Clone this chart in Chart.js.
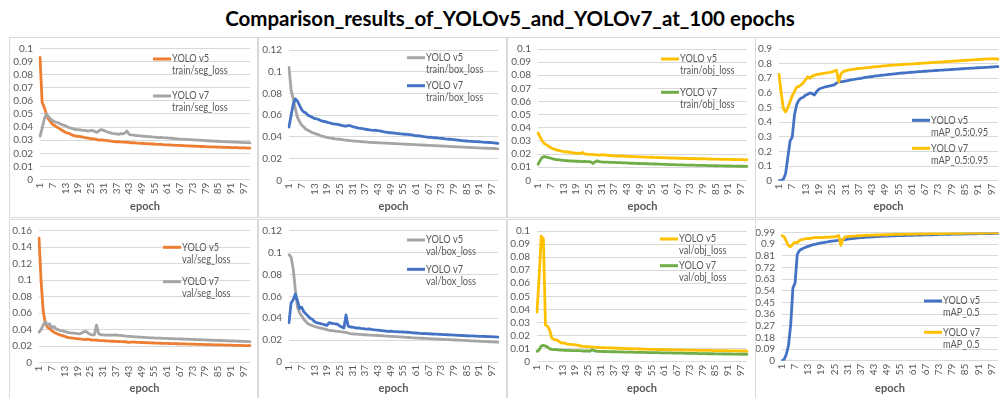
<!DOCTYPE html>
<html><head><meta charset="utf-8">
<script src="https://cdn.jsdelivr.net/npm/chart.js@4.4.1/dist/chart.umd.min.js"></script>
<style>
html,body{margin:0;padding:0;background:#fff;}
#wrap{position:relative;width:1000px;height:398px;overflow:hidden;background:#fff;}
#title{position:absolute;left:0;top:6px;width:1020px;text-align:center;font-weight:bold;font-size:20.5px;font-family:Lato,"Open Sans",sans-serif;color:#000;white-space:nowrap;}
.panel{position:absolute;border:1px solid #d9d9d9;box-sizing:border-box;}
.panel canvas{position:absolute;left:0;top:0;}
</style></head>
<body>
<div id="wrap">
<div id="title">Comparison_results_of_YOLOv5_and_YOLOv7_at_100 epochs</div>
</div>
<script>
const FONT = 'Lato, "Open Sans", sans-serif';

// ---- categories / tick labels ----
const epochs = [
 1,2,3,4,5,6,7,8,9,10, 11,12,13,14,15,16,17,18,19,20,
 21,22,23,24,25,26,27,28,29,30, 31,32,33,34,35,36,37,38,39,40,
 41,42,43,44,45,46,47,48,49,50, 51,52,53,54,55,56,57,58,59,60,
 61,62,63,64,65,66,67,68,69,70, 71,72,73,74,75,76,77,78,79,80,
 81,82,83,84,85,86,87,88,89,90, 91,92,93,94,95,96,97,98,99,100];
const xTickLabels = ['1','7','13','19','25','31','37','43','49','55','61','67','73','79','85','91','97'];
const seriesNames = ['YOLO v5','YOLO v7'];
const xTitle = 'epoch';

const yTicksLoss01 = [0,0.01,0.02,0.03,0.04,0.05,0.06,0.07,0.08,0.09,0.1];
const yTicksLoss012 = [0,0.02,0.04,0.06,0.08,0.1,0.12];
const yTicksLoss016 = [0,0.02,0.04,0.06,0.08,0.1,0.12,0.14,0.16];
const yTicksMap95 = [0,0.1,0.2,0.3,0.4,0.5,0.6,0.7,0.8,0.9];
const yTicksMap50 = [0,0.09,0.18,0.27,0.36,0.45,0.54,0.63,0.72,0.81,0.9,0.99];

// ---- series values ----
const trainSegV5 = [
 0.093,0.059,0.055,0.050,0.046,0.044,0.042,0.041,0.040,0.039,
 0.038,0.037,0.036,0.0355,0.035,0.034,0.0335,0.033,0.033,0.0328,
 0.0325,0.032,0.0318,0.0315,0.031,0.0312,0.0308,0.0305,0.030,0.0302,
 0.030,0.0298,0.0296,0.0295,0.0292,0.029,0.0288,0.029,0.0287,0.0285,
 0.0286,0.0284,0.0283,0.028,0.0282,0.0279,0.0278,0.0276,0.0277,0.0275,
 0.0274,0.0273,0.0272,0.0271,0.027,0.0269,0.0268,0.0268,0.0266,0.0265,
 0.0265,0.0264,0.0263,0.0262,0.0261,0.026,0.026,0.0259,0.0258,0.0257,
 0.0257,0.0256,0.0255,0.0255,0.0254,0.0253,0.0252,0.0252,0.0251,0.025,
 0.025,0.0249,0.0249,0.0248,0.0247,0.0247,0.0246,0.0246,0.0245,0.0245,
 0.0244,0.0244,0.0243,0.0243,0.0242,0.0242,0.0241,0.0241,0.024,0.024];
const trainSegV7 = [
 0.033,0.039,0.046,0.050,0.048,0.046,0.045,0.044,0.0435,0.043,
 0.042,0.0415,0.041,0.040,0.0395,0.039,0.0385,0.038,0.038,0.0378,
 0.0375,0.0375,0.0372,0.037,0.0375,0.0373,0.0365,0.036,0.0375,0.038,
 0.0375,0.0368,0.0362,0.0358,0.0352,0.035,0.0348,0.0345,0.035,0.0348,
 0.0355,0.037,0.0345,0.034,0.0338,0.0336,0.0335,0.0333,0.0332,0.033,
 0.0329,0.0328,0.0327,0.0325,0.0324,0.0322,0.032,0.0321,0.0319,0.0318,
 0.0318,0.0316,0.0315,0.0313,0.0312,0.031,0.0309,0.0308,0.0307,0.0306,
 0.0305,0.0304,0.0303,0.0302,0.0301,0.030,0.0299,0.0298,0.0297,0.0296,
 0.0295,0.0294,0.0293,0.0292,0.0292,0.0291,0.029,0.0289,0.0288,0.0288,
 0.0287,0.0286,0.0285,0.0285,0.0284,0.0283,0.0282,0.0282,0.0281,0.028];
const trainBoxV5 = [
 0.104,0.083,0.075,0.066,0.058,0.054,0.051,0.049,0.047,0.046,
 0.045,0.044,0.0433,0.0425,0.042,0.041,0.0405,0.040,0.0395,0.039,
 0.0388,0.0385,0.0382,0.038,0.0378,0.0375,0.0372,0.037,0.0368,0.0365,
 0.0363,0.0361,0.036,0.0358,0.0356,0.0355,0.0353,0.0352,0.035,0.0349,
 0.0348,0.0347,0.0346,0.0345,0.0344,0.0343,0.0342,0.0341,0.034,0.0339,
 0.0338,0.0337,0.0336,0.0335,0.0334,0.0333,0.0332,0.0331,0.033,0.0329,
 0.0328,0.0327,0.0326,0.0325,0.0324,0.0323,0.0322,0.0321,0.032,0.0319,
 0.0318,0.0317,0.0316,0.0315,0.0314,0.0313,0.0312,0.0311,0.031,0.0309,
 0.0308,0.0307,0.0306,0.0305,0.0304,0.0303,0.0302,0.0301,0.030,0.0299,
 0.0298,0.0297,0.0297,0.0296,0.0295,0.0294,0.0294,0.0293,0.0292,0.029];
const trainBoxV7 = [
 0.049,0.060,0.070,0.075,0.073,0.069,0.065,0.063,0.062,0.060,
 0.059,0.058,0.057,0.0565,0.056,0.055,0.0545,0.054,0.0535,0.053,
 0.0525,0.052,0.0518,0.0515,0.051,0.0505,0.050,0.0498,0.0505,0.0502,
 0.0495,0.049,0.0485,0.048,0.0478,0.0475,0.047,0.0468,0.0465,0.0462,
 0.046,0.0462,0.0458,0.0455,0.045,0.0446,0.0443,0.044,0.0438,0.0436,
 0.0434,0.0432,0.043,0.0428,0.0426,0.0424,0.0422,0.042,0.0418,0.0415,
 0.041,0.0412,0.0408,0.0405,0.0402,0.040,0.0396,0.0398,0.0394,0.0392,
 0.039,0.0388,0.0387,0.0385,0.0382,0.038,0.0378,0.0376,0.0374,0.0372,
 0.037,0.0368,0.0366,0.0364,0.0362,0.036,0.0359,0.0358,0.0357,0.0356,
 0.0355,0.0353,0.0352,0.035,0.0349,0.0348,0.0346,0.0344,0.0342,0.034];
const trainObjV5 = [
 0.036,0.033,0.030,0.028,0.027,0.026,0.025,0.024,0.0235,0.023,
 0.0228,0.0222,0.022,0.0215,0.0218,0.0212,0.021,0.0208,0.0205,0.0207,
 0.0203,0.0212,0.0201,0.020,0.0198,0.0197,0.0196,0.0195,0.0193,0.0192,
 0.0194,0.0196,0.0191,0.019,0.0189,0.0188,0.0187,0.0185,0.0186,0.0184,
 0.0185,0.0183,0.0182,0.0183,0.0181,0.018,0.0181,0.0179,0.0178,0.0179,
 0.0177,0.0176,0.0177,0.0175,0.0176,0.0174,0.0173,0.0174,0.0172,0.0173,
 0.0171,0.0172,0.017,0.0171,0.0169,0.017,0.0168,0.0169,0.0167,0.0168,
 0.0167,0.0166,0.0167,0.0165,0.0166,0.0164,0.0165,0.0164,0.0163,0.0164,
 0.0163,0.0162,0.0163,0.0161,0.0162,0.0161,0.016,0.0161,0.016,0.0159,
 0.016,0.0159,0.0158,0.0159,0.0158,0.0157,0.0158,0.0157,0.0156,0.0157];
const trainObjV7 = [
 0.0122,0.015,0.0175,0.018,0.0176,0.0172,0.0168,0.0164,0.016,0.0158,
 0.0156,0.0154,0.0152,0.015,0.0149,0.0148,0.0147,0.0146,0.0145,0.0146,
 0.0144,0.0143,0.0144,0.0142,0.0143,0.0141,0.0128,0.014,0.0148,0.0142,
 0.014,0.0139,0.0138,0.0138,0.0137,0.0136,0.0137,0.0135,0.0134,0.0135,
 0.0133,0.0132,0.0133,0.0131,0.013,0.0131,0.0129,0.0128,0.0129,0.0127,
 0.0127,0.0126,0.0126,0.0125,0.0125,0.0124,0.0124,0.0123,0.0123,0.0122,
 0.0121,0.0121,0.012,0.012,0.0119,0.0119,0.0118,0.0118,0.0117,0.0117,
 0.0116,0.0116,0.0116,0.0115,0.0115,0.0114,0.0114,0.0114,0.0113,0.0113,
 0.0112,0.0112,0.0112,0.0111,0.0111,0.0111,0.011,0.011,0.011,0.0109,
 0.0109,0.0109,0.0108,0.0108,0.0108,0.0107,0.0107,0.0107,0.0106,0.0106];
const trainMap95V5 = [
 0.0,0.003,0.01,0.05,0.16,0.27,0.30,0.45,0.52,0.55,
 0.565,0.57,0.585,0.59,0.60,0.595,0.585,0.61,0.625,0.632,
 0.637,0.642,0.645,0.648,0.652,0.655,0.668,0.675,0.677,0.678,
 0.681,0.684,0.687,0.69,0.692,0.695,0.698,0.70,0.703,0.706,
 0.708,0.71,0.712,0.715,0.717,0.718,0.72,0.722,0.723,0.725,
 0.727,0.728,0.73,0.731,0.733,0.735,0.736,0.737,0.738,0.74,
 0.741,0.742,0.743,0.745,0.746,0.747,0.748,0.749,0.75,0.751,
 0.752,0.753,0.754,0.755,0.756,0.757,0.758,0.759,0.76,0.761,
 0.762,0.763,0.764,0.765,0.766,0.767,0.768,0.769,0.77,0.771,
 0.772,0.773,0.773,0.774,0.775,0.776,0.777,0.778,0.779,0.78];
const trainMap95V7 = [
 0.726,0.60,0.49,0.47,0.50,0.54,0.58,0.61,0.64,0.645,
 0.655,0.67,0.69,0.71,0.70,0.715,0.72,0.725,0.728,0.73,
 0.733,0.735,0.738,0.74,0.744,0.75,0.755,0.675,0.73,0.745,
 0.75,0.755,0.758,0.76,0.762,0.765,0.767,0.768,0.77,0.771,
 0.773,0.775,0.776,0.778,0.779,0.78,0.782,0.784,0.785,0.786,
 0.788,0.789,0.79,0.791,0.792,0.793,0.794,0.795,0.796,0.797,
 0.798,0.799,0.80,0.801,0.802,0.803,0.804,0.805,0.806,0.807,
 0.808,0.809,0.81,0.811,0.812,0.813,0.814,0.815,0.816,0.817,
 0.818,0.819,0.82,0.821,0.822,0.823,0.824,0.825,0.826,0.827,
 0.828,0.829,0.83,0.831,0.832,0.833,0.833,0.834,0.832,0.83];
const valSegV5 = [
 0.151,0.098,0.062,0.047,0.043,0.041,0.039,0.037,0.0355,0.0345,
 0.0335,0.0328,0.032,0.031,0.0305,0.0302,0.0298,0.0295,0.029,0.0288,
 0.0285,0.0283,0.028,0.0285,0.0278,0.0275,0.0273,0.0275,0.027,0.0268,
 0.0267,0.0265,0.0264,0.0262,0.026,0.0261,0.0258,0.0257,0.0256,0.0255,
 0.0254,0.0253,0.0245,0.025,0.0251,0.0249,0.0247,0.0246,0.0245,0.0244,
 0.0243,0.0242,0.0241,0.024,0.0239,0.0238,0.0237,0.0236,0.0235,0.0235,
 0.0234,0.0233,0.0232,0.0231,0.023,0.023,0.0229,0.0228,0.0227,0.0227,
 0.0226,0.0225,0.0224,0.0224,0.0223,0.0222,0.0221,0.0221,0.022,0.0219,
 0.0219,0.0218,0.0217,0.0217,0.0216,0.0215,0.0215,0.0214,0.0213,0.0213,
 0.0212,0.0211,0.0211,0.021,0.0209,0.0209,0.0208,0.0207,0.0207,0.0206];
const valSegV7 = [
 0.037,0.040,0.046,0.049,0.046,0.047,0.042,0.044,0.041,0.040,
 0.039,0.0385,0.038,0.037,0.0365,0.036,0.0358,0.0355,0.0352,0.035,
 0.036,0.0375,0.038,0.036,0.0345,0.0335,0.034,0.0455,0.035,0.034,
 0.0338,0.0336,0.0335,0.0334,0.0333,0.0335,0.0338,0.0332,0.033,0.0328,
 0.0325,0.0322,0.032,0.0318,0.0316,0.0314,0.0312,0.031,0.0309,0.0308,
 0.0306,0.0305,0.0303,0.0302,0.030,0.0299,0.0298,0.0297,0.0296,0.0295,
 0.0294,0.0293,0.0292,0.0291,0.029,0.0289,0.0288,0.0287,0.0286,0.0285,
 0.0284,0.0283,0.0282,0.0281,0.028,0.0279,0.0278,0.0277,0.0276,0.0275,
 0.0274,0.0273,0.0272,0.0271,0.027,0.0269,0.0268,0.0267,0.0266,0.0265,
 0.0264,0.0263,0.0262,0.0261,0.026,0.0259,0.0258,0.0257,0.0256,0.0255];
const valBoxV5 = [
 0.098,0.096,0.085,0.066,0.050,0.045,0.042,0.039,0.037,0.035,
 0.034,0.0333,0.0325,0.032,0.0315,0.031,0.0305,0.030,0.0295,0.029,
 0.0288,0.0285,0.0282,0.028,0.0278,0.0275,0.0272,0.027,0.0265,0.026,
 0.0258,0.0256,0.0255,0.0253,0.0252,0.025,0.0249,0.0248,0.0246,0.0245,
 0.0244,0.0243,0.0242,0.0241,0.024,0.0238,0.0237,0.0236,0.0235,0.0234,
 0.0232,0.0231,0.023,0.0229,0.0228,0.0226,0.0225,0.0224,0.0222,0.0221,
 0.022,0.0219,0.0218,0.0217,0.0216,0.0215,0.0214,0.0213,0.0212,0.0211,
 0.021,0.0209,0.0208,0.0207,0.0206,0.0205,0.0204,0.0203,0.0202,0.0201,
 0.020,0.0199,0.0198,0.0197,0.0196,0.0195,0.0194,0.0193,0.0192,0.0191,
 0.019,0.0189,0.0188,0.0187,0.0186,0.0185,0.0184,0.0183,0.0182,0.0181];
const valBoxV7 = [
 0.036,0.054,0.057,0.062,0.056,0.049,0.050,0.046,0.044,0.042,
 0.040,0.039,0.037,0.036,0.0355,0.035,0.0345,0.034,0.0335,0.036,
 0.0355,0.035,0.0348,0.0345,0.033,0.032,0.031,0.043,0.033,0.032,
 0.0318,0.0315,0.031,0.0312,0.0308,0.0305,0.0302,0.030,0.0302,0.0298,
 0.0295,0.0293,0.0292,0.029,0.0287,0.0285,0.0283,0.028,0.0282,0.0279,
 0.0278,0.0277,0.0276,0.0275,0.0274,0.0273,0.0272,0.027,0.0268,0.0266,
 0.0265,0.0264,0.0262,0.026,0.0261,0.0259,0.0258,0.0257,0.0256,0.0255,
 0.0254,0.0253,0.0252,0.0251,0.025,0.0249,0.0248,0.0247,0.0246,0.0245,
 0.0244,0.0243,0.0242,0.0241,0.024,0.0239,0.0238,0.0238,0.0237,0.0236,
 0.0235,0.0235,0.0234,0.0233,0.0232,0.0232,0.0231,0.023,0.0229,0.0228];
const valObjV5 = [
 0.038,0.065,0.096,0.094,0.028,0.027,0.024,0.018,0.017,0.0168,
 0.016,0.0148,0.0142,0.0143,0.0135,0.0133,0.0132,0.013,0.0128,0.0126,
 0.0122,0.012,0.0118,0.0116,0.0115,0.0114,0.0112,0.0111,0.011,0.0109,
 0.0108,0.0108,0.0107,0.0106,0.0106,0.0105,0.0104,0.0104,0.0103,0.0102,
 0.0102,0.0101,0.010,0.010,0.0099,0.0099,0.0098,0.0098,0.0097,0.0097,
 0.0096,0.0096,0.0095,0.0095,0.0094,0.0094,0.0094,0.0093,0.0093,0.0093,
 0.0092,0.0092,0.0092,0.0091,0.0091,0.0091,0.009,0.009,0.009,0.0089,
 0.0089,0.0089,0.0088,0.0088,0.0088,0.0087,0.0087,0.0087,0.0087,0.0086,
 0.0086,0.0086,0.0086,0.0085,0.0085,0.0085,0.0085,0.0084,0.0084,0.0084,
 0.0084,0.0083,0.0083,0.0083,0.0083,0.0082,0.0082,0.0082,0.0082,0.0081];
const valObjV7 = [
 0.008,0.009,0.012,0.0125,0.012,0.0112,0.0098,0.0095,0.0093,0.0092,
 0.009,0.0089,0.0088,0.0087,0.0086,0.0086,0.0085,0.0085,0.0084,0.0085,
 0.0084,0.0083,0.0082,0.0083,0.0082,0.008,0.0092,0.0085,0.008,0.0079,
 0.0079,0.0078,0.0078,0.0077,0.0077,0.0076,0.0076,0.0076,0.0075,0.0075,
 0.0075,0.0074,0.0074,0.0073,0.0073,0.0073,0.0072,0.0072,0.0072,0.0071,
 0.0071,0.0071,0.007,0.007,0.007,0.0069,0.0069,0.0069,0.0068,0.0068,
 0.0068,0.0067,0.0067,0.0067,0.0066,0.0066,0.0066,0.0065,0.0065,0.0065,
 0.0064,0.0064,0.0064,0.0063,0.0063,0.0063,0.0062,0.0062,0.0062,0.0062,
 0.0061,0.0061,0.0061,0.0061,0.006,0.006,0.006,0.006,0.0059,0.0059,
 0.0059,0.0059,0.0058,0.0058,0.0058,0.0058,0.0057,0.0057,0.0057,0.0057];
const valMap50V5 = [
 0.0,0.01,0.05,0.12,0.28,0.56,0.60,0.82,0.85,0.862,
 0.87,0.876,0.882,0.888,0.895,0.898,0.902,0.906,0.909,0.912,
 0.915,0.917,0.92,0.922,0.924,0.926,0.928,0.93,0.932,0.935,
 0.938,0.94,0.942,0.944,0.946,0.948,0.949,0.95,0.952,0.953,
 0.954,0.955,0.956,0.957,0.958,0.959,0.96,0.961,0.961,0.962,
 0.963,0.963,0.964,0.965,0.965,0.966,0.966,0.967,0.967,0.968,
 0.968,0.969,0.969,0.97,0.97,0.971,0.971,0.972,0.972,0.972,
 0.973,0.973,0.974,0.974,0.974,0.975,0.975,0.975,0.976,0.976,
 0.976,0.977,0.977,0.977,0.978,0.978,0.978,0.979,0.979,0.979,
 0.98,0.98,0.98,0.98,0.981,0.981,0.981,0.982,0.982,0.982];
const valMap50V7 = [
 0.965,0.955,0.92,0.885,0.88,0.90,0.915,0.91,0.928,0.935,
 0.938,0.942,0.944,0.943,0.947,0.949,0.95,0.951,0.95,0.952,
 0.953,0.952,0.954,0.955,0.956,0.96,0.965,0.89,0.94,0.955,
 0.958,0.96,0.961,0.962,0.963,0.965,0.964,0.966,0.967,0.968,
 0.967,0.969,0.969,0.97,0.97,0.971,0.971,0.972,0.972,0.973,
 0.973,0.974,0.974,0.975,0.975,0.975,0.976,0.976,0.976,0.977,
 0.977,0.977,0.978,0.978,0.978,0.979,0.979,0.979,0.98,0.98,
 0.98,0.98,0.981,0.981,0.981,0.981,0.982,0.982,0.982,0.982,
 0.983,0.983,0.983,0.983,0.984,0.984,0.984,0.984,0.984,0.985,
 0.985,0.985,0.985,0.985,0.986,0.986,0.986,0.986,0.986,0.987];

// ---- styles / layout ----
const ORANGE = '#ED7D31', GRAY = '#A5A5A5', BLUE = '#4472C4', YELLOW = '#FFC000', GREEN = '#70AD47';
const TXT = '#595959';

// box: [left, top, width, height] of bordered panel (page px)
// area: [left, top, right, bottom] of plot area (page px); epochY: centre of x title; legend: [x, y, gap]
const panels = [
 {box:[9,37,249,181], area:[40,48.3,250,179.6], epochY:206, yTicks:yTicksLoss01, v5:trainSegV5, v7:trainSegV7, colors:[ORANGE,GRAY], metric:'train/seg_loss', legend:[153,59,37]},
 {box:[258,37,249,181], area:[289,50,498,180.3], epochY:206, yTicks:yTicksLoss012, v5:trainBoxV5, v7:trainBoxV7, colors:[GRAY,BLUE], metric:'train/box_loss', legend:[407,57.7,28]},
 {box:[507,37,249,181], area:[538,49,747,180.3], epochY:206, yTicks:yTicksLoss01, v5:trainObjV5, v7:trainObjV7, colors:[YELLOW,GREEN], metric:'train/obj_loss', legend:[661,59,33.3]},
 {box:[755,37,246,181], area:[779,49,998,180.7], epochY:206.5, yTicks:yTicksMap95, v5:trainMap95V5, v7:trainMap95V7, colors:[BLUE,YELLOW], metric:'mAP_0.5:0.95', legend:[912,120.3,28]},
 {box:[9,219,249,180], area:[39,230.7,250,362.7], epochY:388.3, yTicks:yTicksLoss016, v5:valSegV5, v7:valSegV7, colors:[ORANGE,GRAY], metric:'val/seg_loss', legend:[163,247.3,34.4]},
 {box:[258,219,249,180], area:[289,230.7,498,362], epochY:388.3, yTicks:yTicksLoss012, v5:valBoxV5, v7:valBoxV7, colors:[GRAY,BLUE], metric:'val/box_loss', legend:[407,240,29.3]},
 {box:[507,219,249,180], area:[537,231,747,361.7], epochY:388.3, yTicks:yTicksLoss01, v5:valObjV5, v7:valObjV7, colors:[YELLOW,GREEN], metric:'val/obj_loss', legend:[660,239,26.7]},
 {box:[755,219,246,180], area:[782,232.4,998,360.7], epochY:388.3, yTicks:yTicksMap50, v5:valMap50V5, v7:valMap50V7, colors:[BLUE,YELLOW], metric:'mAP_0.5', legend:[924,301,31.3]}
];

const panelLegend = {
  id: 'panelLegend',
  afterDatasetsDraw(chart, args, opts) {
    const ctx = chart.ctx;
    ctx.save();
    chart.data.datasets.forEach((ds, i) => {
      const y = opts.y + i * opts.gap;
      ctx.strokeStyle = ds.borderColor;
      ctx.lineWidth = 3;
      ctx.lineCap = 'butt';
      ctx.beginPath();
      ctx.moveTo(opts.x, y);
      ctx.lineTo(opts.x + opts.len, y);
      ctx.stroke();
      ctx.fillStyle = TXT;
      ctx.font = '10.5px ' + FONT;
      ctx.textBaseline = 'middle';
      ctx.textAlign = 'left';
      ds.label.forEach((t, j) => {
        ctx.save();
        ctx.translate(opts.x + opts.len + 1, y + j * opts.lh);
        ctx.scale(0.88, 1);
        ctx.fillText(t, 0, 0);
        ctx.restore();
      });
    });
    ctx.restore();
  }
};

const wrap = document.getElementById('wrap');
const fmt = v => String(+(+v).toFixed(3));

panels.forEach(p => {
  const [bl, bt, bw, bh] = p.box;
  const div = document.createElement('div');
  div.className = 'panel';
  div.style.left = bl + 'px'; div.style.top = bt + 'px';
  div.style.width = bw + 'px'; div.style.height = bh + 'px';
  const cl = bl + 1, ct = bt + 1, cw = bw - 2, ch = bh - 2;
  const cv = document.createElement('canvas');
  cv.width = cw; cv.height = ch;
  cv.style.width = cw + 'px'; cv.style.height = ch + 'px';
  div.appendChild(cv);
  wrap.appendChild(div);
  const [L, T, R, B] = p.area;
  const xH = (ct + ch) - B;
  const titlePad = (ct + ch) - p.epochY - 6.6;
  new Chart(cv.getContext('2d'), {
    type: 'line',
    data: {
      labels: epochs.map(String),
      datasets: [
        {label: [seriesNames[0], p.metric], data: p.v5, borderColor: p.colors[0], backgroundColor: p.colors[0], order: 1},
        {label: [seriesNames[1], p.metric], data: p.v7, borderColor: p.colors[1], backgroundColor: p.colors[1], order: 0}
      ]
    },
    options: {
      responsive: false, animation: false, devicePixelRatio: 1,
      events: [],
      layout: {padding: {left: 0, top: T - ct, right: (cl + cw) - R, bottom: 0}},
      elements: {point: {radius: 0}, line: {borderWidth: 2.8, tension: 0, borderJoinStyle: 'round', borderCapStyle: 'round'}},
      plugins: {
        legend: {display: false}, tooltip: {enabled: false}, title: {display: false},
        panelLegend: {x: p.legend[0] - cl, y: p.legend[1] - ct, gap: p.legend[2], len: 18, lh: 12}
      },
      scales: {
        x: {
          type: 'category', offset: false,
          grid: {display: false, drawTicks: false}, border: {display: false},
          ticks: {autoSkip: false, maxRotation: 90, minRotation: 90, padding: 3, color: TXT, font: {family: FONT, size: 10}},
          afterBuildTicks: s => { s.ticks = s.ticks.filter(t => xTickLabels.includes(String(epochs[t.value]))); },
          title: {display: true, text: xTitle, color: TXT, font: {family: FONT, size: 11, weight: 'bold'}, padding: {top: 0, bottom: titlePad}},
          afterFit: s => { s.height = xH; s.paddingLeft = 0; s.paddingRight = 0; }
        },
        y: {
          min: p.yTicks[0], max: p.yTicks[p.yTicks.length - 1],
          grid: {color: '#d9d9d9', lineWidth: 1, drawTicks: false}, border: {display: false},
          ticks: {autoSkip: false, padding: 7, color: TXT, font: {family: FONT, size: 10}, callback: v => fmt(v)},
          afterBuildTicks: s => { s.ticks = p.yTicks.map(v => ({value: v})); },
          afterFit: s => { s.width = L - cl; s.paddingTop = 0; s.paddingBottom = 0; }
        }
      }
    },
    plugins: [panelLegend]
  });
});
</script>
</body></html>
